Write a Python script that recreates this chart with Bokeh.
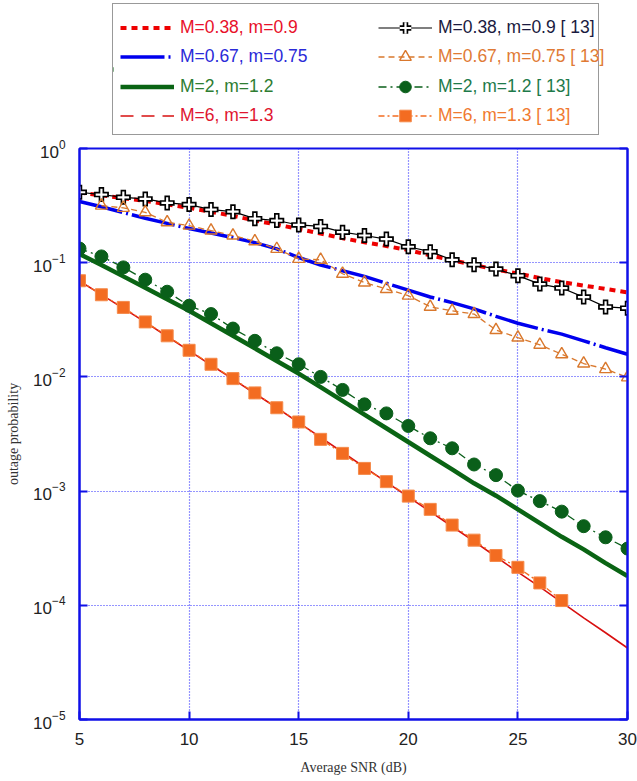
from bokeh.plotting import figure
from bokeh.layouts import column
from bokeh.models import Range1d, FixedTicker, LogAxis, Legend, LegendItem
from bokeh.embed import file_html
from bokeh.resources import INLINE

# ---------------- data ----------------
snr = [5, 6, 7, 8, 9, 10, 11, 12, 13, 14, 15, 16, 17, 18, 19, 20,
       21, 22, 23, 24, 25, 26, 27, 28, 29, 30]
snr_sim_067 = [6, 7, 8, 9, 10, 11, 12, 13, 14, 15, 16, 17, 18, 19, 20,
               21, 22, 23, 24, 25, 26, 27, 28, 29, 30]
snr_sim_6 = [5, 6, 7, 8, 9, 10, 11, 12, 13, 14, 15, 16, 17, 18, 19, 20,
             21, 22, 23, 24, 25, 26, 27]

# analytical curves
p_ana_038 = [0.411, 0.389, 0.367, 0.347, 0.324, 0.302, 0.279, 0.257, 0.234, 0.216,
             0.197, 0.180, 0.164, 0.151, 0.140, 0.129, 0.116, 0.105, 0.0955, 0.0871,
             0.0804, 0.0733, 0.0676, 0.0631, 0.0589, 0.0550]
p_ana_067 = [0.343, 0.309, 0.275, 0.245, 0.221, 0.1995, 0.182, 0.166, 0.150, 0.132,
             0.111, 0.0955, 0.0851, 0.0759, 0.0661, 0.0575, 0.0501, 0.0447, 0.0394, 0.0339,
             0.0295, 0.0263, 0.0237, 0.0207, 0.0180, 0.0158]
p_ana_2 = [0.119, 0.0955, 0.0759, 0.0603, 0.0479, 0.0380, 0.0295, 0.0229, 0.0178, 0.0138,
           0.0107, 0.00813, 0.00617, 0.00468, 0.00355, 0.00269, 0.00204, 0.00155, 0.00117,
           0.000912, 0.000692, 0.000525, 0.000398, 0.000309, 0.000234, 0.000180]
p_ana_6 = [0.0692, 0.0525, 0.0398, 0.0302, 0.0226, 0.0170, 0.0127, 0.00955, 0.00716, 0.00537,
           0.00398, 0.00295, 0.00219, 0.00162, 0.00120, 0.000891, 0.000661, 0.000490, 0.000363,
           0.000266, 0.000195, 0.000145, 0.000106, 0.0000776, 0.0000575, 0.0000423]

# reference [13] curves
p_ref_038 = [0.414, 0.395, 0.374, 0.362, 0.334, 0.323, 0.292, 0.280, 0.243, 0.234,
             0.214, 0.208, 0.185, 0.173, 0.161, 0.138, 0.125, 0.106, 0.096, 0.088,
             0.077, 0.065, 0.060, 0.050, 0.041, 0.040]
p_ref_067 = [0.316, 0.302, 0.276, 0.226, 0.211, 0.191, 0.173, 0.154, 0.132, 0.108,
             0.106, 0.080, 0.067, 0.0588, 0.0514, 0.0411, 0.0379, 0.0355, 0.0257, 0.0221,
             0.0191, 0.0158, 0.0131, 0.0117, 0.0099]
p_ref_2 = [0.133, 0.1135, 0.0910, 0.0710, 0.0557, 0.0420, 0.0355, 0.0265, 0.0207, 0.0161,
           0.0129, 0.0100, 0.00769, 0.00575, 0.00479, 0.00372, 0.00290, 0.00237, 0.00171,
           0.00138, 0.00101, 0.000817, 0.000661, 0.000493, 0.000394, 0.000314]
p_ref_6 = [0.0695, 0.0524, 0.0406, 0.0303, 0.0229, 0.0171, 0.0129, 0.00966, 0.00724, 0.00537,
           0.00403, 0.00284, 0.00214, 0.00158, 0.00121, 0.000904, 0.000692, 0.000504, 0.000372,
           0.000273, 0.000215, 0.000157, 0.000110]

x_ticks = [5, 10, 15, 20, 25, 30]
y_ticks = [1e0, 1e-1, 1e-2, 1e-3, 1e-4, 1e-5]

labels_col1 = ["M=0.38, m=0.9", "M=0.67, m=0.75", "M=2, m=1.2", "M=6, m=1.3"]
labels_col2 = ["M=0.38, m=0.9 [ 13]", "M=0.67, m=0.75 [ 13]", "M=2, m=1.2 [ 13]", "M=6, m=1.3 [ 13]"]

# ---------------- styles ----------------
BLUE = "#1010E8"
sty_a038 = dict(line_color="#EE0000", line_width=4, line_dash="6 5")
sty_a067 = dict(line_color="#0000EE", line_width=3.5, line_dash="44 4 2 4")
sty_a2 = dict(line_color="#0A6414", line_width=4.5)
sty_a6 = dict(line_color="#D81010", line_width=1.6)
sty_s038_l = dict(line_color="black", line_width=1.2)
sty_s038_m1 = dict(marker="cross", size=15, line_color="black", line_width=5.5)
sty_s038_m2 = dict(marker="cross", size=11.5, line_color="white", line_width=2.2)
sty_s067_l = dict(line_color="#D9782D", line_width=1.3, line_dash="6 4")
sty_s067_m = dict(marker="triangle", size=12, line_color="#D9782D", line_width=1.4, fill_alpha=0)
sty_s2_l = dict(line_color="#0A5F1A", line_width=1.3, line_dash="8 4 2 4")
sty_s2_m = dict(marker="circle", size=13, line_color="#0A5F1A", fill_color="#0A5F1A")
sty_s6_l = dict(line_color="#F36C21", line_width=1.3, line_dash="6 3 2 3")
sty_s6_m = dict(marker="square", size=12, line_color="#F58A4A", fill_color="#F36C21")


def add_series(fig, a6_dash="solid"):
    r = {}
    r["a038"] = [fig.line(snr, p_ana_038, **sty_a038)]
    r["a067"] = [fig.line(snr, p_ana_067, **sty_a067)]
    r["a2"] = [fig.line(snr, p_ana_2, **sty_a2)]
    r["a6"] = [fig.line(snr, p_ana_6, line_dash=a6_dash, **sty_a6)]
    r["s038"] = [fig.line(snr, p_ref_038, **sty_s038_l),
                 fig.scatter(snr, p_ref_038, **sty_s038_m1),
                 fig.scatter(snr, p_ref_038, **sty_s038_m2)]
    r["s067"] = [fig.line(snr_sim_067, p_ref_067, **sty_s067_l),
                 fig.scatter(snr_sim_067, p_ref_067, **sty_s067_m)]
    r["s2"] = [fig.line(snr, p_ref_2, **sty_s2_l),
               fig.scatter(snr, p_ref_2, **sty_s2_m)]
    r["s6"] = [fig.line(snr_sim_6, p_ref_6, **sty_s6_l),
               fig.scatter(snr_sim_6, p_ref_6, **sty_s6_m)]
    return r


# ---------------- main figure ----------------
p = figure(width=637, height=645, x_range=Range1d(5, 30), y_range=Range1d(1e-5, 1),
           y_axis_type="log", output_backend="svg", toolbar_location=None,
           min_border_left=79, min_border_right=10, min_border_top=12, min_border_bottom=62,
           background_fill_color="white", border_fill_color="white")
p.outline_line_color = BLUE
p.outline_line_width = 2

p.xaxis.ticker = FixedTicker(ticks=x_ticks)
p.yaxis.ticker = FixedTicker(ticks=y_ticks)
p.xgrid.ticker = FixedTicker(ticks=x_ticks)
p.ygrid.ticker = FixedTicker(ticks=y_ticks)
for g in (p.xgrid, p.ygrid):
    g.grid_line_color = "#2a2aff"
    g.grid_line_dash = "1 2"
    g.grid_line_width = 1.2

for ax in (p.xaxis, p.yaxis):
    ax.axis_line_color = BLUE
    ax.axis_line_width = 2
    ax.major_tick_line_color = BLUE
    ax.major_tick_line_width = 2
    ax.major_tick_in = 8
    ax.major_tick_out = 0
    ax.minor_tick_line_color = None
    ax.major_label_text_font = "Liberation Sans"
    ax.major_label_text_font_size = "17px"
    ax.major_label_text_color = "#222222"
    ax.axis_label_text_font = "Liberation Serif"
    ax.axis_label_text_font_style = "normal"
    ax.axis_label_text_font_size = "14px"
    ax.axis_label_text_color = "#333333"

p.xaxis.major_label_standoff = 13
p.xaxis.axis_label = "Average SNR (dB)"
p.xaxis.axis_label_standoff = 12

p.yaxis.major_label_standoff = 14
p.yaxis.axis_label = "outage probability"
p.yaxis.axis_label_standoff = 9

right = LogAxis(ticker=FixedTicker(ticks=y_ticks), major_label_text_font_size="2px",
                major_label_text_alpha=0,
                axis_line_color=BLUE, axis_line_width=2, major_tick_line_color=BLUE,
                major_tick_line_width=2, major_tick_in=8, major_tick_out=0,
                minor_tick_line_color=None, major_label_standoff=0)
p.add_layout(right, "right")

add_series(p)

# ---------------- legend strip (own figure above the plot) ----------------
# same series drawn again, but outside this strip's ranges, so only legend glyphs show
lf = figure(width=637, height=136, x_range=Range1d(-2, -1), y_range=Range1d(-2, -1),
            output_backend="svg", toolbar_location=None,
            min_border_left=79, min_border_right=10, min_border_top=0, min_border_bottom=0,
            x_axis_location=None, y_axis_location=None, outline_line_color=None,
            background_fill_color="white", border_fill_color="white")
lf.xgrid.visible = False
lf.ygrid.visible = False
lr = add_series(lf, a6_dash="13 8")

box = Legend(items=[LegendItem(label=" ", renderers=lr["a2"])], location=(33, 1),
             glyph_width=1, glyph_height=130, label_height=130, label_width=484,
             label_standoff=0, padding=0, margin=0, spacing=0, label_text_alpha=0,
             border_line_color="#333333", border_line_width=1.5,
             background_fill_color="white", background_fill_alpha=1.0)
lf.add_layout(box)

col_vx = [41, 299]
row_vy = [94.5, 65, 35.5, 6]
col1_items = [lr["a038"], lr["a067"], lr["a2"], lr["a6"]]
col2_items = [lr["s038"], lr["s067"], lr["s2"], lr["s6"]]
col1_colors = ["#E8102A", "#2A2AD8", "#2E7D32", "#E01530"]
col2_colors = ["#1A1A40", "#E07A35", "#1E7A4A", "#F07A30"]

for c, (labs, rends, cols) in enumerate([(labels_col1, col1_items, col1_colors),
                                         (labels_col2, col2_items, col2_colors)]):
    for r in range(4):
        lg = Legend(items=[LegendItem(label=labs[r], renderers=rends[r])],
                    location=(col_vx[c], row_vy[r]),
                    glyph_width=54, glyph_height=29, label_height=29, label_standoff=6,
                    padding=0, margin=0, spacing=0,
                    label_text_font="Liberation Sans", label_text_font_size="17.5px",
                    label_text_color=cols[r], border_line_alpha=0, background_fill_alpha=0)
        lf.add_layout(lg)

layout = column(lf, p, spacing=0)
open("out.html", "w").write(file_html(layout, INLINE))
